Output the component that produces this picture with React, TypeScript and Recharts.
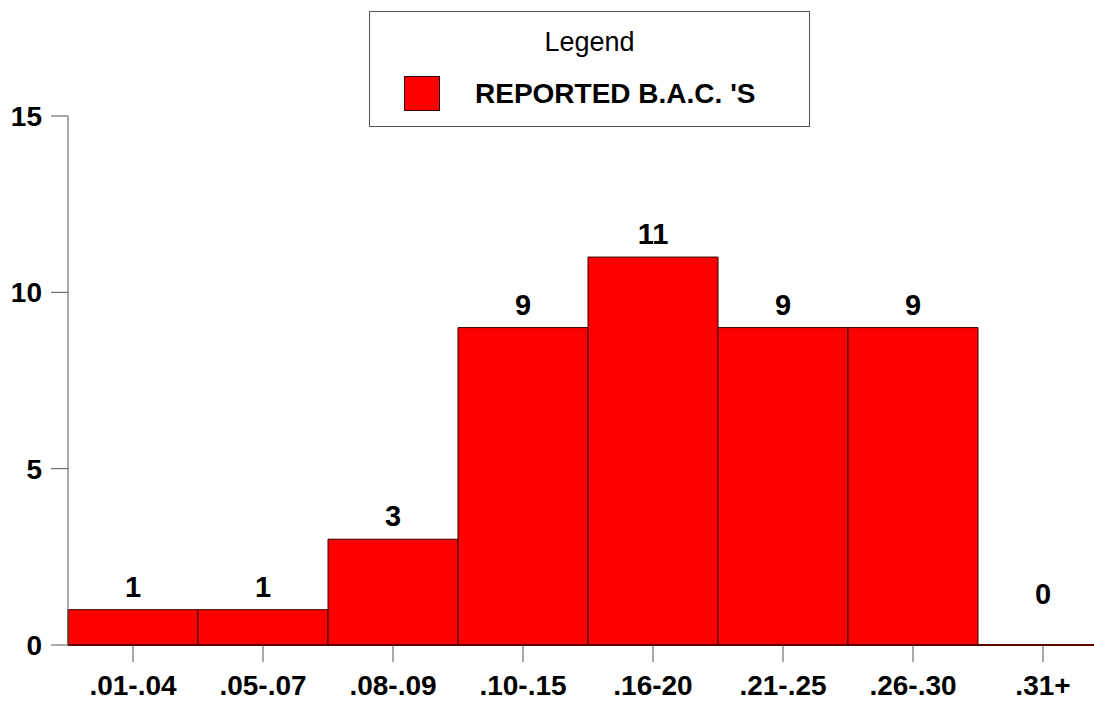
import React from "react";
import { BarChart, Bar, XAxis, YAxis, Legend, LabelList, ReferenceDot } from "recharts";

const categories = [".01-.04", ".05-.07", ".08-.09", ".10-.15", ".16-20", ".21-.25", ".26-.30", ".31+"];
const reportedBACs = [1, 1, 3, 9, 11, 9, 9, 0];
const yTicks = [0, 5, 10, 15];
const seriesName = "REPORTED B.A.C. 'S";

const data = categories.map((range, i) => ({ range, value: reportedBACs[i] }));
// zero-height bars get no label from LabelList, so label them separately
const zeroBars = data.filter((d) => d.value === 0);

const FONT = "'Liberation Sans', Arial, Helvetica, sans-serif";

const LegendBox = () => (
  <div
    style={{
      width: 441,
      height: 116,
      boxSizing: "border-box",
      border: "1px solid #555",
      background: "#fff",
      fontFamily: FONT,
      color: "#000",
      position: "relative",
    }}
  >
    <div
      style={{
        position: "absolute",
        top: 14,
        left: 0,
        width: "100%",
        textAlign: "center",
        fontSize: 27,
        lineHeight: "32px",
      }}
    >
      Legend
    </div>
    <div
      style={{
        position: "absolute",
        left: 34,
        top: 64,
        width: 36,
        height: 35,
        boxSizing: "border-box",
        background: "#ff0000",
        border: "1px solid #330000",
      }}
    />
    <div
      style={{
        position: "absolute",
        left: 105,
        top: 66,
        fontSize: 28,
        fontWeight: "bold",
        lineHeight: "32px",
        whiteSpace: "nowrap",
      }}
    >
      {seriesName}
    </div>
  </div>
);

export default function App() {
  return (
    <div
      style={{
        position: "absolute",
        left: 0,
        top: 0,
        width: 1094,
        height: 702,
        overflow: "hidden",
        background: "#fff",
        fontFamily: FONT,
      }}
    >
      <BarChart
        width={1120}
        height={702}
        data={data}
        margin={{ top: 116, right: 12, bottom: 0, left: 0 }}
        barCategoryGap={0}
        barGap={0}
      >
        <XAxis
          dataKey="range"
          height={57}
          tickSize={17}
          tickMargin={13}
          axisLine={{ stroke: "#5a0000", strokeWidth: 2 }}
          tickLine={{ stroke: "#555" }}
          tick={{ fill: "#000", fontSize: 28, fontWeight: "bold", fontFamily: FONT }}
          interval={0}
        />
        <YAxis
          width={68}
          domain={[0, 15]}
          ticks={yTicks}
          tickSize={17}
          tickMargin={9}
          axisLine={{ stroke: "#555" }}
          tickLine={{ stroke: "#555" }}
          tick={{ fill: "#000", fontSize: 28, fontWeight: "bold", fontFamily: FONT }}
        />
        <Legend
          layout="horizontal"
          verticalAlign="middle"
          align="center"
          wrapperStyle={{ top: 11, left: 369, width: 441, height: 116 }}
          content={() => <LegendBox />}
        />
        <Bar
          dataKey="value"
          name={seriesName}
          fill="#ff0000"
          stroke="#330000"
          strokeWidth={1}
          isAnimationActive={false}
        >
          <LabelList
            dataKey="value"
            position="top"
            offset={13}
            fill="#000"
            fontSize={29}
            fontWeight="bold"
            fontFamily={FONT}
          />
        </Bar>
        {zeroBars.map((d) => (
          <ReferenceDot
            key={d.range}
            x={d.range}
            y={d.value}
            r={0}
            ifOverflow="visible"
            label={{
              value: String(d.value),
              position: "top",
              offset: 41,
              fill: "#000",
              fontSize: 29,
              fontWeight: "bold",
              fontFamily: FONT,
            }}
          />
        ))}
      </BarChart>
    </div>
  );
}
